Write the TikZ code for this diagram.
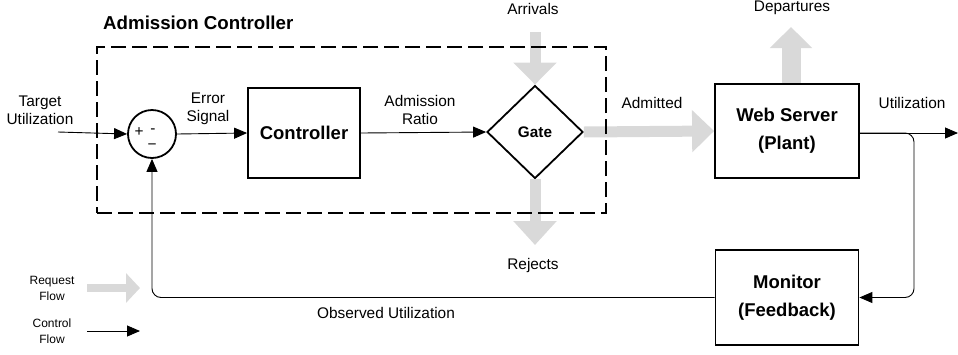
\documentclass[tikz,border=0pt]{standalone}
\usepackage{fontspec}
\setmainfont{Liberation Sans}
\usetikzlibrary{shapes.geometric,arrows.meta,calc}
\definecolor{flowgray}{HTML}{D9D9D9}
\tikzset{
  lbl/.style={font=\fontsize{15.4}{18}\selectfont, align=center, inner sep=0pt},
  small/.style={font=\fontsize{12}{16}\selectfont, align=center, inner sep=0pt},
  block/.style={draw, line width=1.8pt, font=\fontsize{18.5}{28}\selectfont\bfseries, align=center, inner sep=0pt},
  ctl/.style={line width=0.9pt, -{Triangle[length=13pt,width=11pt]}},
  flow/.style={draw=flowgray, line width=#1},
  flow/.default=11pt
}
\begin{document}
\begin{tikzpicture}[x=1pt,y=-1pt]
\useasboundingbox (0,0) rectangle (958,354);

% blocks
\node[circle, draw, line width=1.8pt, minimum size=48pt, inner sep=0pt] (sum) at (152,134) {};
\node[block, minimum width=112pt, minimum height=90pt] (ctrl) at (304,133) {Controller};
\node[diamond, draw, line width=1.8pt, minimum width=96pt, minimum height=93pt, inner sep=0pt,
      font=\fontsize{15.3}{18}\selectfont\bfseries] (gate) at (535,132) {Gate};
\node[block, minimum width=144pt, minimum height=94pt] (web) at (787,131) {Web Server\\(Plant)};
\node[block, minimum width=143pt, minimum height=95pt] (mon) at (787,297.5) {Monitor\\(Feedback)};

% signs inside the summing junction
\node[lbl] (plus) at (139,132) {+};
\node[lbl] (minusa) at (153,131) {-};
\node[lbl] (minusb) at (152,147) {\textminus};

% free ends of connectors
\coordinate (tgt) at (58,132);
\coordinate (arr) at (535,32);
\coordinate (rej) at (535,245);
\coordinate (dep) at (791,27);
\coordinate (out) at (958,133);
\coordinate (tap) at (914,133);

% request flow (gray)
\draw[flowgray, line width=11pt, -{Triangle[length=22pt,width=42pt]}] (arr) -- (gate.north);
\draw[flowgray, line width=11pt, -{Triangle[length=24pt,width=42pt]}] (gate.south) -- (rej);
\draw[flowgray, line width=11pt, -{Triangle[length=22pt,width=41pt]}] (gate.east) -- (web.west);
\draw[flowgray, line width=19pt, -{Triangle[length=21pt,width=41pt]}] (web.north -| dep) -- (dep);

% admission controller boundary
\node[draw, dashed, line width=2.5pt, dash pattern=on 15pt off 6pt, minimum width=509pt, minimum height=166pt, inner sep=0pt] (adm) at (351.5,130) {};
\node[font=\fontsize{18.7}{22}\selectfont\bfseries, anchor=west, inner sep=0pt] (admlbl) at (103,23) {Admission Controller};

% control flow
\draw[ctl] (tgt) -- (sum.west);
\draw[ctl] (sum.east) -- (ctrl.west);
\draw[ctl] (ctrl.east) -- (gate.west);
\draw[ctl] (web.east |- out) -- (out);
\draw[ctl, rounded corners=9pt] (web.east |- tap) -- (tap) -- (tap |- mon.east) -- (mon.east);
\draw[ctl, rounded corners=9pt] (mon.west) -- (sum.south |- mon.west) -- (sum.south);

% labels
\node[lbl] (ltgt) at (40,110) {Target\\Utilization};
\node[lbl] (lerr) at (208,109) {Error\\Signal};
\node[lbl] (lratio) at (420,110) {Admission\\Ratio};
\node[lbl] (larr) at (533,9) {Arrivals};
\node[lbl] (ladm) at (652,103) {Admitted};
\node[lbl] (ldep) at (792,8) {Departures};
\node[lbl] (lutil) at (912,103) {Utilization};
\node[lbl] (lrej) at (533,266) {Rejects};
\node[lbl] (lobs) at (386,313) {Observed Utilization};

% legend
\node[small] (lreq) at (52,288) {Request\\Flow};
\node[small] (lctl) at (52,331) {Control\\Flow};
\coordinate (rqa) at (87,288);
\coordinate (rqb) at (140,288);
\coordinate (cfa) at (87,331);
\coordinate (cfb) at (140,331);
\draw[flowgray, line width=8pt, -{Triangle[length=14pt,width=29pt]}] (rqa) -- (rqb);
\draw[ctl] (cfa) -- (cfb);
\end{tikzpicture}
\end{document}
